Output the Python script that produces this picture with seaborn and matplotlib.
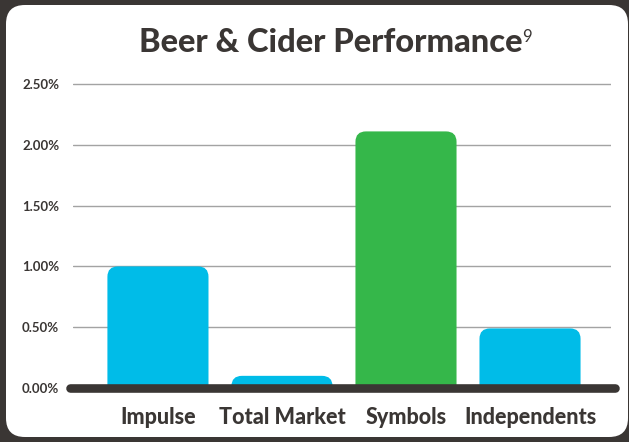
import matplotlib
matplotlib.use("Agg")
import matplotlib.pyplot as plt
from matplotlib.patches import FancyBboxPatch
from matplotlib.lines import Line2D
import seaborn as sns
import pandas as pd

categories = ["Impulse", "Total Market", "Symbols", "Independents"]
values = [1.00, 0.10, 2.11, 0.49]
bar_colors = ["#00bce8", "#00bce8", "#35b74a", "#00bce8"]
yticks = [0.0, 0.5, 1.0, 1.5, 2.0, 2.5]
ytick_labels = ["0.00%", "0.50%", "1.00%", "1.50%", "2.00%", "2.50%"]
title = "Beer & Cider Performance"
title_sup = "9"

DARK = "#3a3634"
W, H = 629, 442

sns.set_theme(style="white")
plt.rcParams["font.family"] = ["Lato", "DejaVu Sans"]

fig = plt.figure(figsize=(W / 100, H / 100), dpi=100)
fig.patch.set_facecolor(DARK)

# white rounded panel
panel = FancyBboxPatch((6 / W, 1 - 437 / H), (628 - 6) / W, (437 - 5) / H,
                       boxstyle="round,pad=0,rounding_size=0.03",
                       mutation_aspect=W / H,
                       transform=fig.transFigure, facecolor="white",
                       edgecolor="none", zorder=-10)
fig.patches.append(panel)

# axes placement (bottom edge = value 0)
ax = fig.add_axes([73 / W, (H - 388) / H, 538 / W, (388 - 77.9) / H])
ax.set_facecolor("none")
ax.set_zorder(1)

df = pd.DataFrame({"cat": categories, "val": values})
sns.barplot(data=df, x="cat", y="val", hue="cat", palette=bar_colors,
            legend=False, width=0.815, ax=ax, saturation=1)

# replace rectangles with rounded-top patches (bottom clipped by axes)
for p in list(ax.patches):
    x, y = p.get_x(), p.get_y()
    w, h = p.get_width(), p.get_height()
    col = p.get_facecolor()
    p.set_visible(False)
    ext = 0.2
    rp = FancyBboxPatch((x, y - ext), w, h + ext,
                        boxstyle="round,pad=0,rounding_size=0.085",
                        mutation_aspect=1.0, facecolor=col,
                        edgecolor="none", zorder=2)
    ax.add_patch(rp)

ax.set_xlim(-0.685, 3.653)
ax.set_ylim(0, 2.55)
ax.set_yticks(yticks)
ax.set_yticklabels(ytick_labels)
ax.yaxis.grid(True, color="#a3a3a3", linewidth=1.0, zorder=0)
ax.set_axisbelow(True)
for s in ax.spines.values():
    s.set_visible(False)
ax.tick_params(axis="y", length=0, pad=10, labelsize=9.5, labelcolor=DARK)
ax.tick_params(axis="x", length=0, pad=14, labelsize=15.5, labelcolor=DARK)
for lab in ax.get_yticklabels():
    lab.set_fontweight("bold")
for lab in ax.get_xticklabels():
    lab.set_fontweight(900)
ax.set_xlabel("")
ax.set_ylabel("")

# thick baseline
base = Line2D([-0.006, 1.007], [0, 0], transform=ax.get_yaxis_transform(),
              color=DARK, linewidth=6.2, solid_capstyle="round",
              clip_on=False, zorder=5)
ax.add_line(base)

# title with superscript
t = fig.text(331 / W, 1 - 43 / H, title, ha="center", va="center",
             fontsize=23.5, fontweight=900, color=DARK)
fig.canvas.draw()
bb = t.get_window_extent()
fig.text((bb.x1 - 1) / W, (bb.y1 - 1) / H, title_sup, ha="left", va="top",
         fontsize=12, fontweight="normal", color=DARK)

fig.savefig("out.png", dpi=100, facecolor=fig.get_facecolor())
